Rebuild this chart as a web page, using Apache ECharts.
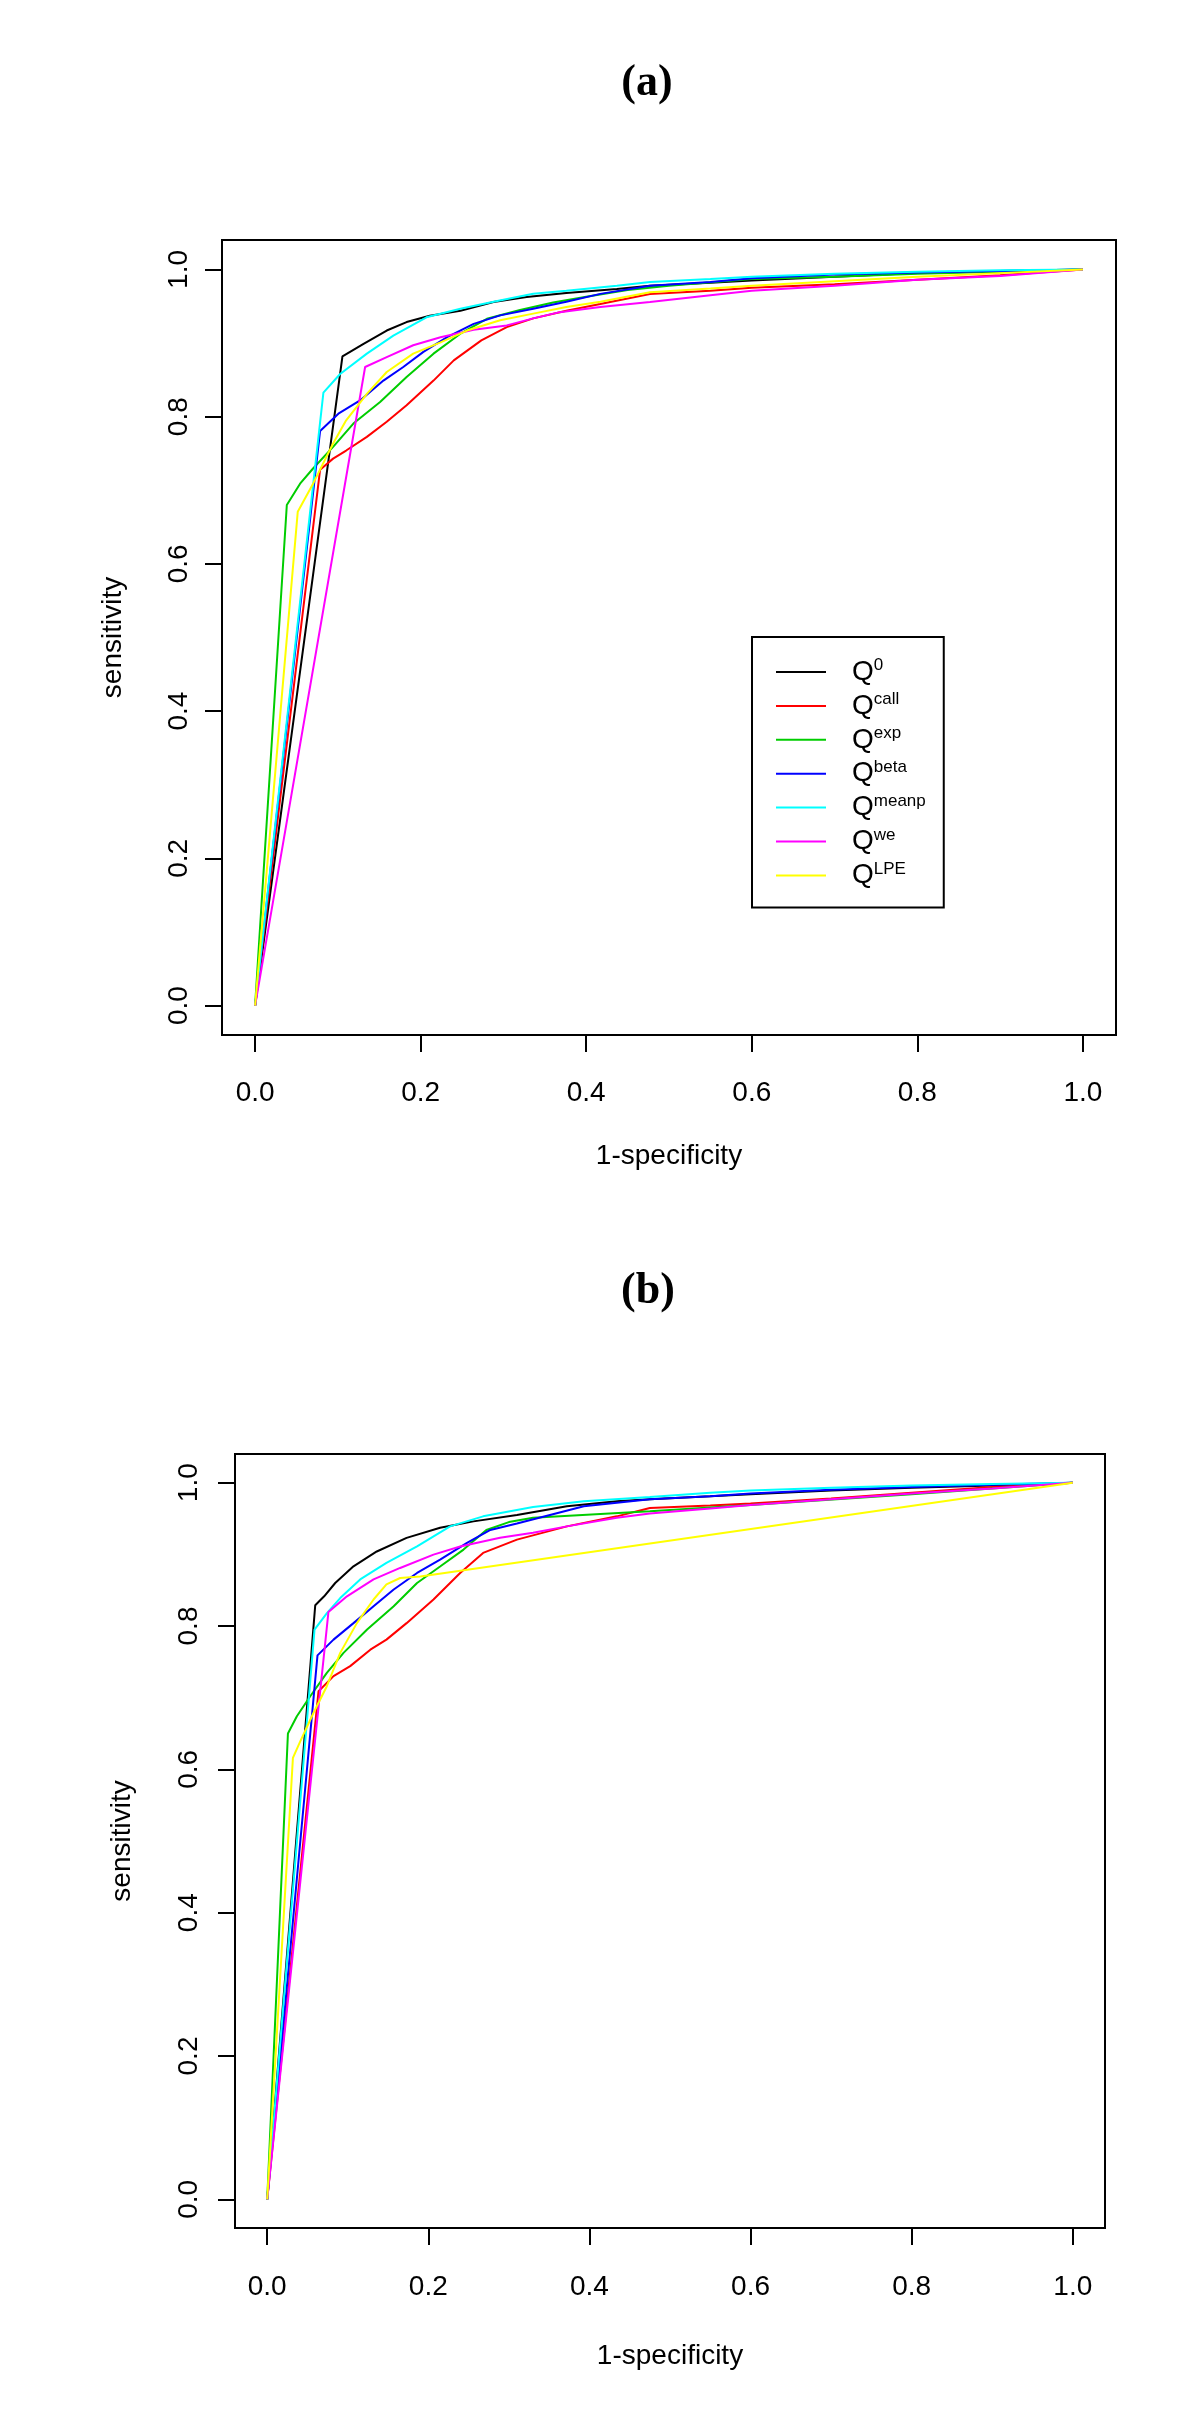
<!DOCTYPE html>
<html>
<head>
<meta charset="utf-8">
<script src="https://cdn.jsdelivr.net/npm/echarts@6/dist/echarts.min.js"></script>
<style>
html,body{margin:0;padding:0;background:#fff;}
#chart{width:1200px;height:2431px;}
</style>
</head>
<body>
<div id="chart"></div>
<script>
// ---- tick values / labels ----
const tickValues = [0, 0.2, 0.4, 0.6, 0.8, 1.0];
const tickLabels = ['0.0', '0.2', '0.4', '0.6', '0.8', '1.0'];

// ---- series names & colours ----
const seriesNames = ['Q0', 'Qcall', 'Qexp', 'Qbeta', 'Qmeanp', 'Qwe', 'QLPE'];
const seriesColors = ['#000000', '#FF0000', '#00CD00', '#0000FF', '#00FFFF', '#FF00FF', '#FFFF00'];

// ---- panel (a) data: [1-specificity, sensitivity] ----
const a_Q0 = [[0,0],[0.1055,0.882],[0.131,0.899],[0.159,0.917],[0.183,0.9285],[0.211,0.937],[0.248,0.944],[0.288,0.9557],[0.328,0.9625],[0.376,0.968],[0.437,0.9733],[0.477,0.978],[0.55,0.982],[0.6,0.985],[0.7,0.99],[0.8,0.995],[0.9,0.998],[1,1]];
const a_Qcall = [[0,0],[0.0785,0.728],[0.0942,0.743],[0.110,0.754],[0.135,0.7725],[0.159,0.793],[0.183,0.8155],[0.2155,0.849],[0.240,0.8765],[0.2733,0.9037],[0.304,0.9217],[0.336,0.9335],[0.376,0.944],[0.417,0.953],[0.477,0.9665],[0.55,0.971],[0.6,0.975],[0.7,0.98],[0.8,0.986],[0.9,0.992],[1,1]];
const a_Qexp = [[0,0],[0.0383,0.680],[0.0543,0.709],[0.070,0.7296],[0.0942,0.759],[0.1187,0.7906],[0.151,0.820],[0.183,0.854],[0.2155,0.8856],[0.248,0.9127],[0.280,0.933],[0.32,0.945],[0.36,0.955],[0.4,0.963],[0.45,0.972],[0.5,0.978],[0.6,0.987],[0.7,0.99],[0.8,0.994],[0.9,0.997],[1,1]];
const a_Qbeta = [[0,0],[0.0785,0.7806],[0.1006,0.804],[0.1268,0.822],[0.155,0.849],[0.179,0.8675],[0.2033,0.888],[0.232,0.908],[0.264,0.926],[0.296,0.9376],[0.336,0.9466],[0.376,0.956],[0.417,0.9668],[0.477,0.978],[0.55,0.983],[0.6,0.988],[0.7,0.993],[0.8,0.996],[0.9,0.998],[1,1]];
const a_Qmeanp = [[0,0],[0.0825,0.8327],[0.1027,0.858],[0.135,0.8856],[0.167,0.910],[0.207,0.935],[0.248,0.9466],[0.288,0.956],[0.336,0.967],[0.376,0.971],[0.437,0.978],[0.477,0.983],[0.55,0.987],[0.6,0.99],[0.7,0.994],[0.8,0.997],[0.9,0.999],[1,1]];
const a_Qwe = [[0,0],[0.1329,0.8675],[0.159,0.881],[0.191,0.897],[0.224,0.908],[0.264,0.918],[0.304,0.924],[0.336,0.9335],[0.368,0.942],[0.417,0.949],[0.477,0.9558],[0.55,0.965],[0.6,0.971],[0.7,0.978],[0.8,0.986],[0.9,0.991],[1,1]];
const a_QLPE = [[0,0],[0.0515,0.6707],[0.070,0.709],[0.0942,0.7635],[0.110,0.795],[0.135,0.831],[0.159,0.8607],[0.191,0.8856],[0.224,0.901],[0.256,0.917],[0.296,0.931],[0.336,0.940],[0.376,0.949],[0.417,0.956],[0.477,0.969],[0.55,0.974],[0.6,0.978],[0.7,0.984],[0.8,0.99],[0.9,0.995],[1,1]];

// ---- panel (b) data ----
const b_Q0 = [[0,0],[0.0596,0.829],[0.0707,0.8414],[0.0844,0.860],[0.1071,0.8833],[0.136,0.904],[0.173,0.923],[0.2146,0.937],[0.256,0.946],[0.310,0.955],[0.372,0.967],[0.434,0.974],[0.475,0.977],[0.55,0.981],[0.6,0.984],[0.7,0.989],[0.8,0.993],[0.9,0.996],[1,1]];
const b_Qcall = [[0,0],[0.0637,0.709],[0.0823,0.730],[0.1030,0.744],[0.128,0.767],[0.148,0.781],[0.173,0.804],[0.2064,0.837],[0.2395,0.874],[0.268,0.902],[0.310,0.9205],[0.372,0.939],[0.434,0.953],[0.475,0.9646],[0.55,0.968],[0.6,0.971],[0.7,0.978],[0.8,0.986],[0.9,0.994],[1,1]];
const b_Qexp = [[0,0],[0.0257,0.650],[0.0368,0.674],[0.0534,0.702],[0.074,0.7346],[0.0947,0.7625],[0.124,0.795],[0.157,0.8275],[0.186,0.860],[0.2146,0.883],[0.2437,0.9066],[0.272,0.934],[0.30,0.945],[0.33,0.951],[0.475,0.96],[0.6,0.969],[0.8,0.984],[1,1]];
const b_Qbeta = [[0,0],[0.0624,0.759],[0.0823,0.781],[0.1071,0.804],[0.132,0.8275],[0.157,0.851],[0.186,0.874],[0.2146,0.8926],[0.248,0.916],[0.277,0.934],[0.310,0.943],[0.351,0.955],[0.393,0.967],[0.475,0.977],[0.55,0.981],[0.6,0.985],[0.7,0.99],[0.8,0.994],[0.9,0.997],[1,1]];
const b_Qmeanp = [[0,0],[0.0587,0.795],[0.0741,0.818],[0.0906,0.839],[0.1154,0.865],[0.148,0.888],[0.186,0.911],[0.227,0.939],[0.268,0.953],[0.330,0.966],[0.393,0.974],[0.475,0.980],[0.55,0.986],[0.6,0.989],[0.7,0.993],[0.8,0.996],[0.9,0.998],[1,1]];
const b_Qwe = [[0,0],[0.076,0.8196],[0.099,0.8414],[0.132,0.865],[0.165,0.881],[0.2064,0.8996],[0.2395,0.911],[0.289,0.923],[0.330,0.930],[0.372,0.939],[0.434,0.951],[0.475,0.957],[0.55,0.964],[0.6,0.969],[0.7,0.977],[0.8,0.985],[0.9,0.992],[1,1]];
const b_QLPE = [[0,0],[0.0319,0.616],[0.041,0.639],[0.0575,0.679],[0.074,0.716],[0.0906,0.7625],[0.1113,0.804],[0.132,0.837],[0.148,0.858],[0.165,0.867],[0.19,0.869],[1,1]];

const panelA = [a_Q0, a_Qcall, a_Qexp, a_Qbeta, a_Qmeanp, a_Qwe, a_QLPE];
const panelB = [b_Q0, b_Qcall, b_Qexp, b_Qbeta, b_Qmeanp, b_Qwe, b_QLPE];

const FONT = 'Liberation Sans, Arial, Helvetica, sans-serif';

function labelFmt(v) {
  const i = tickValues.findIndex(t => Math.abs(t - v) < 1e-9);
  return i >= 0 ? tickLabels[i] : '';
}
function makeX(gridIndex, nameGap, margin) {
  return {
    gridIndex: gridIndex, type: 'value', min: -0.04, max: 1.04,
    axisLine: { show: false, onZero: false },
    splitLine: { show: false },
    axisTick: { show: true, length: 17, customValues: tickValues, lineStyle: { color: '#000', width: 2 } },
    axisLabel: { show: true, customValues: tickValues, margin: margin, color: '#000', fontSize: 28, fontFamily: FONT, formatter: labelFmt },
    name: '1-specificity', nameLocation: 'middle', nameGap: nameGap,
    nameTextStyle: { color: '#000', fontSize: 28, fontFamily: FONT }
  };
}
function makeY(gridIndex, nameGap, margin) {
  return {
    gridIndex: gridIndex, type: 'value', min: -0.04, max: 1.04,
    axisLine: { show: false, onZero: false },
    splitLine: { show: false },
    axisTick: { show: true, length: 17, customValues: tickValues, lineStyle: { color: '#000', width: 2 } },
    axisLabel: { show: true, customValues: tickValues, rotate: 90, margin: margin, color: '#000', fontSize: 28, fontFamily: FONT, formatter: labelFmt },
    name: 'sensitivity', nameLocation: 'middle', nameGap: nameGap,
    nameTextStyle: { color: '#000', fontSize: 28, fontFamily: FONT }
  };
}

const series = [];
panelA.forEach((d, i) => series.push({
  name: seriesNames[i], type: 'line', xAxisIndex: 0, yAxisIndex: 0, data: d,
  symbol: 'none', color: seriesColors[i], lineStyle: { width: 2, color: seriesColors[i] }, silent: true
}));
panelB.forEach((d, i) => series.push({
  name: seriesNames[i], type: 'line', xAxisIndex: 1, yAxisIndex: 1, data: d,
  symbol: 'none', color: seriesColors[i], lineStyle: { width: 2, color: seriesColors[i] }, silent: true
}));

const chart = echarts.init(document.getElementById('chart'), null, { renderer: 'canvas' });
chart.setOption({
  animation: false,
  backgroundColor: '#fff',
  title: [
    { text: '(a)', left: 642, top: 57, textAlign: 'center',
      textStyle: { fontFamily: 'Liberation Serif, Times New Roman, serif', fontWeight: 'bold', fontSize: 44, color: '#000' } },
    { text: '(b)', left: 643, top: 1265, textAlign: 'center',
      textStyle: { fontFamily: 'Liberation Serif, Times New Roman, serif', fontWeight: 'bold', fontSize: 44, color: '#000' } }
  ],
  grid: [
    { left: 222, top: 240, width: 894, height: 795, show: true, borderColor: '#000', borderWidth: 2, backgroundColor: 'transparent', containLabel: false },
    { left: 235, top: 1454, width: 870, height: 774, show: true, borderColor: '#000', borderWidth: 2, backgroundColor: 'transparent', containLabel: false }
  ],
  xAxis: [makeX(0, 107, 44), makeX(1, 114, 45)],
  yAxis: [makeY(0, 95, 29), makeY(1, 99, 32)],
  legend: {
    show: true, orient: 'vertical', left: 752, top: 637,
    padding: [20, 18, 18, 24], itemGap: 4.9, itemWidth: 50, itemHeight: 2,
    icon: 'rect',
    borderColor: '#000', borderWidth: 2, borderRadius: 0, backgroundColor: '#fff',
    selectedMode: false,
    data: seriesNames,
    formatter: function (name) { return '{q|Q}{s|' + name.slice(1) + '}'; },
    textStyle: {
      color: '#000', fontFamily: FONT,
      rich: {
        q: { fontSize: 28, lineHeight: 30, fontFamily: FONT, color: '#000', padding: [0, 0, 0, 21] },
        s: { fontSize: 17, lineHeight: 8, fontFamily: FONT, color: '#000', verticalAlign: 'top' }
      }
    }
  },
  series: series
});
</script>
</body>
</html>
